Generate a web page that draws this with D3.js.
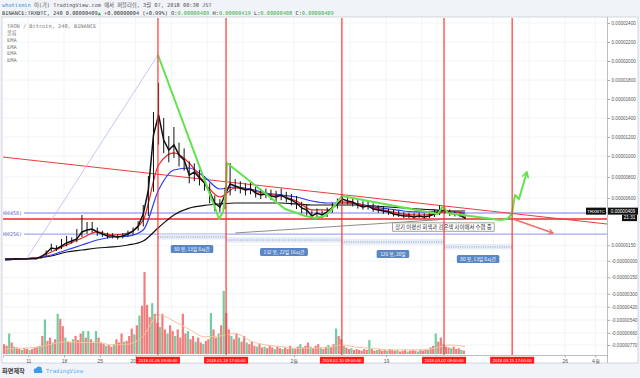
<!DOCTYPE html>
<html>
<head>
<meta charset="utf-8">
<script src="https://cdn.jsdelivr.net/npm/d3@7"></script>
<style>
body{margin:0;background:#f0f3f7;}
svg text{font-family:"Liberation Sans",Arial,sans-serif;}
svg .mono{font-family:"DejaVu Sans Mono","Noto Sans CJK KR",monospace;}
svg .kr{font-family:"Noto Sans CJK KR","Noto Sans",sans-serif;}
</style>
</head>
<body>
<svg id="vis" width="640" height="378"></svg>
<script>
// ---- data (prices in satoshi, 1e-8 BTC) ----
var firstDay = "2017-12-06";   // daily bars start here, 12h volume bars too

var closeSats = [19,19,21,19,19,21,22,38,76,124, 115,143,172,191,210,277,296,305,277,258,
  239,239,229,239,258,286,334,448,677,1221, 1432,1168,1063,1116,1011,962,819,848,791,743,
  658,553,515,629,734,715,696,677,686,648, 629,639,620,610,629,601,582,553,506,487,
  429,458,439,468,506,544,591,572,563,534, 515,525,496,487,477,468,448,439,429,429,
  420,429,420,429,448,477,487,458,448,439, 409];
var highSats = [24,23,26,23,24,25,28,52,100,165, 150,210,239,225,305,439,372,372,320,290,
  270,265,255,265,290,320,380,534,810,1463, 1768,1400,1210,1305,1140,1080,950,930,870,810,
  740,625,590,700,933,780,760,740,750,710, 690,690,680,670,690,660,640,620,565,535,
  480,500,480,510,555,595,630,620,605,580, 570,570,550,530,520,500,490,480,465,460,
  455,460,455,465,490,530,520,490,475,465, 440];
var lowSats = [15,15,17,15,15,17,18,20,40,95, 95,115,140,165,180,230,260,270,240,230,
  215,215,205,215,230,250,290,330,430,660, 1120,1030,940,980,900,860,740,760,720,670,
  550,475,468,495,625,665,645,625,635,605, 590,600,580,570,580,560,530,495,455,428,
  405,420,410,420,460,500,540,540,520,500, 490,490,470,460,450,440,425,420,410,410,
  405,410,405,410,420,440,450,430,425,420, 400];

// moving averages, one reading every 3 days
var emaRed  = [19,19,29,86,153,219,277,248,267,391, 914,1032,933,743,610,696,677,639,620,572,
  487,487,563,544,506,477,448,439,448,477, 448];
var emaBlue = [10,19,29,57,105,153,200,229,238,296, 677,867,886,800,686,705,686,648,629,610,
  572,553,553,544,515,496,477,468,468,468, 458];
var emaBlack = [10,19,29,48,86,105,124,134,153,191, 320,440,505,530,544,553,553,553,553,544,
  534,534,534,534,525,515,506,496,487,477, 477];
var emaGray = [null,null,null,null,null,null,null,null,null,null, null,null,null,null,null,267,277,286,296,305,
  315,324,334,344,353,363,372,382,391,401, 410];

// volume, one bar every 12 hours (relative units)
var volume = [12,10,25,14,9,8,6,5,7,6, 5,6,8,9,10,22,42,16,20,14,
  18,49,43,34,20,15,14,18,22,17, 25,28,20,28,18,15,28,20,14,12,
  10,11,9,12,18,14,25,15,16,22, 31,24,35,47,59,100,60,45,62,49,
  38,33,49,30,25,35,28,22,30,20, 49,25,28,18,22,15,20,14,12,16,
  18,50,30,20,25,35,77,50,30,22, 18,25,20,15,22,14,12,15,10,9,
  12,8,9,7,10,8,6,9,7,6, 8,6,10,7,6,9,12,8,10,14,
  9,7,10,12,8,6,9,11,8,12, 31,22,18,10,8,6,7,5,6,5,
  4,6,5,17,6,4,5,6,4,5, 4,6,5,4,5,3,4,5,3,4,
  5,4,3,5,4,6,5,8,10,25, 15,20,12,9,8,7,9,6,7,5, 4];
var volDir = "rrgrgrrgrr" + "grrrgrgrrg" + "rgrrgrrgrr" + "rgrgrrgrrr" + "grrgrrrgrr" +
  "rgrgrrrrgr" + "rgrrgrrgrr" + "rrgrrgrrgr" + "rgrrgrgrrg" + "rrgrrgrrrg" +
  "rrgrrrgrrg" + "rrrgrrgrrr" + "grrrgrrgrr" + "grrgrrgrrr" + "rrrgrrgrrr" +
  "grrrgrrrgr" + "rrgrrrgrrg" + "rrgrrgrrrg" + "r";
var volMa = [6,7,8,12,15,14,14,11,12,22, 48,40,30,21,22,25,16,11,9,7,
  7,8,11,8,7,5,5,5,7,11, 9];

// axes
var yTicks = [2400,2200,2000,1800,1600,1400,1200,1000,800,600,150,0,-150,-300,-420,-540,-660,-770];
var yTickLabels = ["0.00002400","0.00002200","0.00002000","0.00001800","0.00001600","0.00001400",
  "0.00001200","0.00001000","0.00000800","0.00000600","0.00000150","-0.00000000","-0.00000150",
  "-0.00000300","-0.00000420","-0.00000540","-0.00000660","-0.00000770"];
var xTickDates = ["2017-12-11","2017-12-18","2017-12-25","2018-01-01","2018-02-01","2018-02-19","2018-03-26","2018-04-01"];
var xTickLabels = ["11","18","25","2018","2월","19","26","4월"];
var gridDates = ["2017-12-11","2017-12-18","2017-12-25","2018-01-01","2018-01-08","2018-01-15","2018-01-22",
  "2018-02-01","2018-02-12","2018-02-19","2018-02-26","2018-03-01","2018-03-12","2018-03-19","2018-03-26","2018-04-01"];

// drawings
var eventDates = ["2018-01-05T09:00","2018-01-18T17:00","2018-02-10T09:00","2018-03-02T09:00","2018-03-15T17:00"];
var eventLabels = ["2018-01-05 09:00:00","2018-01-18 17:00:00","2018-02-10 09:00:00","2018-03-02 09:00:00","2018-03-15 17:00:00"];
var spanStart = ["2018-01-05T09:00","2018-01-18T17:00","2018-02-10T09:00","2018-03-02T09:00"];
var spanEnd   = ["2018-01-18T17:00","2018-02-10T09:00","2018-03-02T09:00","2018-03-15T17:00"];
var spanPrice = [229,200,181,134];
var spanText  = ["80 봉, 13일 8시간","132 봉, 22일 16시간","120 봉, 20일","80 봉, 13일 8시간"];
var greenPath = [["2018-01-05T09:00",2063],["2018-01-17T08:00",401],["2018-01-18T03:00",468],
  ["2018-01-18T17:00",677],["2018-01-18T21:00",933],["2018-01-30T06:00",496],["2018-02-01T14:00",458],
  ["2018-02-03T04:00",429],["2018-02-05T03:00",410],["2018-02-07T02:00",429],["2018-02-08T15:00",506],
  ["2018-02-09T15:00",572],["2018-02-10T09:00",620],["2018-03-01T04:00",448],["2018-03-02T04:00",525],
  ["2018-03-03T03:00",458],["2018-03-13T08:00",391],["2018-03-14T17:00",401],["2018-03-15T16:00",448],
  ["2018-03-16T06:00",629],["2018-03-17T01:00",591],["2018-03-18T14:00",848]];
var redArrow = [["2018-03-15T07:00",410],["2018-03-23T17:00",267]];
var redTrend = [["2017-12-06T01:09",990],["2018-04-03T06:29",353]];
var lavDiag = [["2017-12-10T18:00",29],["2018-01-05T09:00",2063]];
var lavLevels = [458,256];
var lavLevelText = ["(0.00000458)","(0.00000256)"];
var redLevel = 400;
var noteText = "장기 이평선 회색과 검은색 사이에서 수렴 중";
var noteAt = ["2018-03-02T06:00",324];

// ---- setup ----
var svg = d3.select('#vis');
var plotL = 3, plotR = 607, plotT = 18, plotB = 355;
var dayMs = 864e5;
var t0 = new Date(firstDay + "T00:00Z").getTime();
function utc(s){ return new Date(s.length > 10 ? s + "Z" : s + "T00:00Z"); }

var x = d3.scaleUtc()
  .domain([utc("2017-12-06T01:09"), utc("2018-04-03T06:29")])
  .range([plotL, plotR]);
// tradingview's overlay price scale is not quite linear, keep its label positions
var y = d3.scaleLinear().domain([-770,0,458,1000,2400]).range([345,261,213,156,23]);
var vy = d3.scaleLinear().domain([0,100]).range([354,272]);

var dayX = function(d,i){ return x(new Date(t0 + (i + 0.5) * dayMs)); };
var halfX = function(d,i){ return x(new Date(t0 + (i + 0.5) * dayMs / 2)); };
var maX = function(d,i){ return x(new Date(t0 + (3 * i + 0.5) * dayMs)); };
var pt = function(p){ return [x(utc(p[0])), y(p[1])]; };

var defs = svg.append('defs');
defs.append('clipPath').attr('id','plotClip').append('rect')
  .attr('x',plotL).attr('y',plotT).attr('width',plotR-plotL).attr('height',plotB-plotT);
function arrowMarker(id,color){
  defs.append('marker').attr('id',id).attr('viewBox','0 0 10 10').attr('refX',8).attr('refY',5)
    .attr('markerWidth',4).attr('markerHeight',4).attr('orient','auto')
    .append('path').attr('d','M1,1 L8,5 L1,9').attr('fill','none').attr('stroke',color).attr('stroke-width',2);
}
arrowMarker('arrG','#62e34c');
arrowMarker('arrR','#f46b6b');

// panel
svg.append('rect').attr('x',2).attr('y',17).attr('width',636).attr('height',346)
  .attr('fill','#fff').attr('stroke','#c9ced6').attr('stroke-width',0.8);

var plot = svg.append('g').attr('clip-path','url(#plotClip)');

// grid
plot.selectAll('.hgrid').data(yTicks).enter().append('line')
  .attr('x1',plotL).attr('x2',plotR).attr('y1',function(d){return y(d);}).attr('y2',function(d){return y(d);})
  .attr('stroke','#eef1f6').attr('stroke-width',0.8);
plot.selectAll('.vgrid').data(gridDates).enter().append('line')
  .attr('x1',function(d){return x(utc(d));}).attr('x2',function(d){return x(utc(d));})
  .attr('y1',plotT).attr('y2',plotB).attr('stroke','#eef1f6').attr('stroke-width',0.8);

// volume
plot.selectAll('.vol').data(volume).enter().append('rect')
  .attr('x',function(d,i){return halfX(d,i)-1.1;})
  .attr('y',function(d){return vy(d);})
  .attr('width',2.2)
  .attr('height',function(d){return vy(0)-vy(d);})
  .attr('fill',function(d,i){return volDir[i]=='g' ? '#74cda0' : '#f07e7e';});
plot.append('path').datum(volMa)
  .attr('d', d3.line().x(maX).y(function(d){return vy(d);}).curve(d3.curveMonotoneX))
  .attr('fill','none').attr('stroke','#fbc29a').attr('stroke-width',1);

// horizontal levels
plot.selectAll('.lav').data(lavLevels).enter().append('line')
  .attr('x1',24).attr('x2',plotR).attr('y1',function(d){return y(d);}).attr('y2',function(d){return y(d);})
  .attr('stroke','#a3a7f5').attr('stroke-width',1.3);
plot.selectAll('.lavt').data(lavLevels).enter().append('text')
  .attr('class','mono').attr('x',22).attr('y',function(d){return y(d)+1.8;})
  .attr('text-anchor','end').style('font-size','5px').attr('fill','#5a64b8')
  .text(function(d,i){return lavLevelText[i];});
plot.append('line').attr('x1',plotL).attr('x2',plotR).attr('y1',y(redLevel)).attr('y2',y(redLevel))
  .attr('stroke','#ee2a2a').attr('stroke-width',1.5);
plot.append('path').attr('d', d3.line()(redTrend.map(pt)))
  .attr('stroke','#ee3b3b').attr('stroke-width',1).attr('fill','none');
plot.append('path').attr('d', d3.line()(lavDiag.map(pt)))
  .attr('stroke','#b7b9f3').attr('stroke-width',0.8).attr('fill','none');

// averages
function maLine(data,color,w){
  plot.append('path').datum(data)
    .attr('d', d3.line().defined(function(d){return d!==null;}).x(maX).y(function(d){return y(d);}).curve(d3.curveMonotoneX))
    .attr('fill','none').attr('stroke',color).attr('stroke-width',w);
}
maLine(emaGray,'#8c8c8c',1);
maLine(emaBlack,'#111',1.2);
maLine(emaBlue,'#2d3cf0',1.2);
maLine(emaRed,'#ee2222',1.2);

// price bars
plot.selectAll('.wick').data(closeSats).enter().append('line')
  .attr('x1',dayX).attr('x2',dayX)
  .attr('y1',function(d,i){return y(lowSats[i]);})
  .attr('y2',function(d,i){return y(highSats[i]);})
  .attr('stroke','#111').attr('stroke-width',1);
plot.append('path').datum(closeSats)
  .attr('d', d3.line().x(dayX).y(function(d){return y(d);}))
  .attr('fill','none').attr('stroke','#111').attr('stroke-width',1.5);

// green sketch and red arrow
plot.append('path').attr('d', d3.line()(greenPath.map(pt)))
  .attr('fill','none').attr('stroke','#62e34c').attr('stroke-width',2)
  .attr('stroke-linejoin','round').attr('marker-end','url(#arrG)');
plot.append('path').attr('d', d3.line()(redArrow.map(pt)))
  .attr('fill','none').attr('stroke','#f46b6b').attr('stroke-width',1.5).attr('marker-end','url(#arrR)');

// event lines
svg.selectAll('.evt').data(eventDates).enter().append('line')
  .attr('x1',function(d){return x(utc(d));}).attr('x2',function(d){return x(utc(d));})
  .attr('y1',plotT).attr('y2',plotB).attr('stroke','#f33').attr('stroke-width',1.3).attr('opacity',0.9);

// date range measures
spanText.forEach(function(t,i){
  var x1 = x(utc(spanStart[i])), x2 = x(utc(spanEnd[i])), yy = y(spanPrice[i]);
  plot.append('rect').attr('x',x1).attr('y',yy-3).attr('width',x2-x1).attr('height',5.5)
    .attr('fill','#dfe8f6').attr('opacity',0.8);
  plot.append('line').attr('x1',x1).attr('x2',x2).attr('y1',yy).attr('y2',yy)
    .attr('stroke','#8d99aa').attr('stroke-width',0.9).attr('stroke-dasharray','1 1.3');
  var g = plot.append('g');
  var lbl = g.append('text').attr('class','kr').attr('x',(x1+x2)/2).attr('y',yy+13.6)
    .attr('text-anchor','middle').style('font-size','4.8px').attr('fill','#fff').text(t);
  var w = lbl.node().getComputedTextLength() + 7;
  g.insert('rect','text').attr('x',(x1+x2)/2-w/2).attr('y',yy+8).attr('width',w).attr('height',8)
    .attr('rx',1.5).attr('fill','#5a86c6');
});

// note box
var noteG = plot.append('g');
var np = pt(noteAt);
var nt = noteG.append('text').attr('class','kr').attr('x',np[0]).attr('y',np[1]+2)
  .attr('text-anchor','middle').style('font-size','5.4px').attr('fill','#333').text(noteText);
var nw = nt.node().getComputedTextLength() + 5;
noteG.insert('rect','text').attr('x',np[0]-nw/2).attr('y',np[1]-4.2).attr('width',nw).attr('height',8.4)
  .attr('fill','#fff').attr('stroke','#8a8a8a').attr('stroke-width',0.8);

// legend in chart
var legend = ["TRON / Bitcoin, 240, BINANCE","볼륨","EMA","EMA","EMA","EMA"];
svg.selectAll('.leg').data(legend).enter().append('text')
  .attr('class','mono').attr('x',7).attr('y',function(d,i){return i==0 ? 28 : 35 + (i-1)*6.8;})
  .style('font-size','5.3px').attr('fill','#7a7a7a').text(function(d){return d;});

// right axis
svg.append('line').attr('x1',plotR+0.5).attr('x2',plotR+0.5).attr('y1',17).attr('y2',363)
  .attr('stroke','#a9adb3').attr('stroke-width',0.8);
var yAxis = svg.append('g').attr('transform','translate(' + (plotR+0.5) + ',0)')
  .call(d3.axisRight(y).tickValues(yTicks).tickSize(2.5).tickPadding(1.5)
    .tickFormat(function(d,i){return yTickLabels[i];}));
yAxis.select('.domain').remove();
yAxis.selectAll('line').attr('stroke','#a9adb3');
yAxis.selectAll('text').style('font-size','4.6px').attr('fill','#555');

// bottom axis
var xAxis = svg.append('g').attr('transform','translate(0,' + plotB + ')')
  .call(d3.axisBottom(x).tickValues(xTickDates.map(utc)).tickSize(2.5).tickPadding(1.5)
    .tickFormat(function(d,i){return xTickLabels[i];}));
xAxis.select('.domain').attr('stroke','#a9adb3').attr('stroke-width',0.8);
xAxis.selectAll('line').attr('stroke','#a9adb3');
xAxis.selectAll('text').style('font-size','5px').attr('fill','#555');

// event labels on the time axis
eventDates.forEach(function(d,i){
  var cx = x(utc(d));
  svg.append('rect').attr('x',cx-22).attr('y',356.8).attr('width',44).attr('height',6.8).attr('fill','#ff1a1a');
  svg.append('text').attr('x',cx).attr('y',361.9).attr('text-anchor','middle')
    .style('font-size','4.2px').attr('fill','#fff').text(eventLabels[i]);
});

// last price labels
var lastY = y(closeSats[closeSats.length-1]) - 7;
svg.append('rect').attr('x',586).attr('y',lastY-3.5).attr('width',20).attr('height',7).attr('fill','#111');
svg.append('text').attr('x',596).attr('y',lastY+1.7).attr('text-anchor','middle')
  .style('font-size','4.4px').attr('fill','#fff').text('TRXBTC');
svg.append('rect').attr('x',608).attr('y',lastY-3.5).attr('width',30).attr('height',7).attr('fill','#111');
svg.append('text').attr('x',623).attr('y',lastY+1.7).attr('text-anchor','middle')
  .style('font-size','4.6px').attr('fill','#fff').text('0.00000409');
svg.append('rect').attr('x',622).attr('y',lastY+3.5).attr('width',15).attr('height',6.5).attr('fill','#111');
svg.append('text').attr('x',629.5).attr('y',lastY+8.3).attr('text-anchor','middle')
  .style('font-size','4.6px').attr('fill','#fff').text('21:31');

// header
var h1 = svg.append('text').attr('class','mono').attr('x',2).attr('y',7.3).style('font-size','5.3px').attr('fill','#555');
h1.append('tspan').attr('fill','#3b8fe0').text('whatismin');
h1.append('tspan').text(' 이(가) TradingView.com 에서 퍼블리쉬, 3월 07, 2018 00:38 JST');
var h2 = svg.append('text').attr('class','mono').attr('x',2).attr('y',15).style('font-size','5.3px').attr('fill','#333');
h2.append('tspan').text('BINANCE:TRXBTC, 240 0.00000409');
h2.append('tspan').attr('fill','#3cb04a').text('▲');
h2.append('tspan').text(' +0.00000004 (+0.99%) O:');
h2.append('tspan').attr('fill','#3cb04a').text('0.00000409');
h2.append('tspan').text(' H:');
h2.append('tspan').attr('fill','#3cb04a').text('0.00000419');
h2.append('tspan').text(' L:');
h2.append('tspan').attr('fill','#3cb04a').text('0.00000408');
h2.append('tspan').text(' C:');
h2.append('tspan').attr('fill','#3cb04a').text('0.00000409');

// footer
svg.append('text').attr('class','kr').attr('x',2).attr('y',373).style('font-size','6.2px')
  .style('font-weight','bold').attr('fill','#444').text('화면제작');
var logo = svg.append('g').attr('transform','translate(34,370)').attr('fill','#3a9be8');
logo.append('circle').attr('cx',2).attr('cy',0.5).attr('r',2.2);
logo.append('circle').attr('cx',5).attr('cy',-0.8).attr('r',2.8);
logo.append('rect').attr('x',0).attr('y',0.5).attr('width',8.5).attr('height',2.4).attr('rx',1.2);
svg.append('text').attr('class','mono').attr('x',46).attr('y',372.5).style('font-size','5.6px')
  .attr('fill','#59aef0').text('TradingView');
</script>
</body>
</html>
